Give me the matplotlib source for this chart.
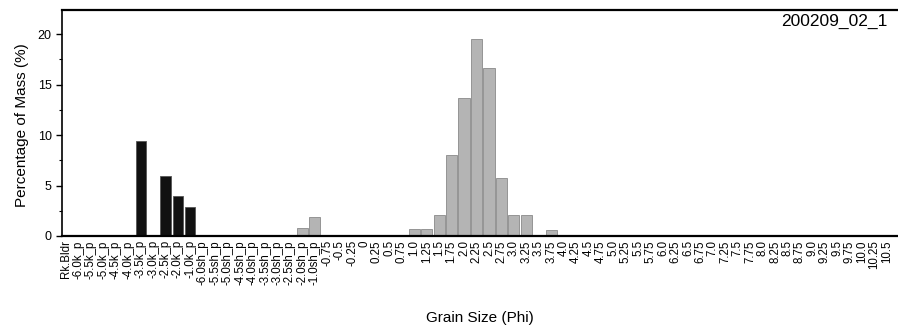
import matplotlib
matplotlib.use("Agg")
import matplotlib.pyplot as plt
import numpy as np

plt.rcParams['font.family'] = ['Liberation Sans', 'DejaVu Sans']

categories = (["Rk.Bldr"]
              + ["-6.0k_p", "-5.5k_p", "-5.0k_p", "-4.5k_p", "-4.0k_p", "-3.5k_p",
                 "-3.0k_p", "-2.5k_p", "-2.0k_p", "-1.0k_p"]
              + ["-6.0sh_p", "-5.5sh_p", "-5.0sh_p", "-4.5sh_p", "-4.0sh_p", "-3.5sh_p",
                 "-3.0sh_p", "-2.5sh_p", "-2.0sh_p", "-1.0sh_p"]
              + ["-0.75", "-0.5", "-0.25", "0", "0.25", "0.5", "0.75", "1.0", "1.25",
                 "1.5", "1.75", "2.0", "2.25", "2.5", "2.75", "3.0", "3.25", "3.5",
                 "3.75", "4.0", "4.25", "4.5", "4.75", "5.0", "5.25", "5.5", "5.75",
                 "6.0", "6.25", "6.5", "6.75", "7.0", "7.25", "7.5", "7.75", "8.0",
                 "8.25", "8.5", "8.75", "9.0", "9.25", "9.5", "9.75", "10.0", "10.25",
                 "10.5"])

# Coarse (k_p) fraction values, %
coarse_values = [0.0,
                 0.0, 0.0, 0.0, 0.0, 0.0, 9.4, 0.0, 5.95, 3.95, 2.85]
# Remaining fractions, %
fine_values = ([0.0, 0.0, 0.0, 0.0, 0.0, 0.0, 0.0, 0.0, 0.75, 1.85]
               + [0.0, 0.0, 0.0, 0.0, 0.0, 0.0, 0.0, 0.65, 0.65,
                  2.1, 8.0, 13.7, 19.5, 16.7, 5.7, 2.1, 2.05, 0.0,
                  0.6] + [0.0] * 27)

title = "200209_02_1"
xlabel = "Grain Size (Phi)"
ylabel = "Percentage of Mass (%)"

fig = plt.figure(figsize=(8.98, 3.34), dpi=100)
ax = fig.add_axes([62 / 898, 98 / 334, 843.7 / 898, 226 / 334])

x = np.arange(len(categories))
n_coarse = len(coarse_values)
ax.bar(x[:n_coarse], coarse_values, width=0.82, color="#111111",
       edgecolor="#555555", linewidth=0.6)
ax.bar(x[n_coarse:], fine_values, width=0.9, color="#b4b4b4",
       edgecolor="#8a8a8a", linewidth=0.6)

ax.set_xlim(-0.32, 67.5)
ax.set_ylim(0, 22.4)
ax.set_xticks(x)
ax.set_xticklabels(categories, rotation=90, ha="center", va="top", fontsize=8.3)
ax.tick_params(axis="x", length=0, pad=3)
ax.set_yticks([0, 5, 10, 15, 20])
ax.set_yticks(np.arange(0, 22.5, 2.5), minor=True)
ax.tick_params(axis="y", which="major", length=4, width=1, labelsize=9)
ax.tick_params(axis="y", which="minor", length=2.5, width=0.8)

for s in ["top", "bottom"]:
    ax.spines[s].set_linewidth(1.6)
ax.spines["left"].set_linewidth(1.2)
ax.spines["right"].set_visible(False)

fig.text(888 / 898, 1 - 21 / 334, title, ha="right", va="center", fontsize=12.5)
fig.text(480 / 898, 1 - 318 / 334, xlabel, ha="center", va="center", fontsize=11)
fig.text(22 / 898, 1 - 125 / 334, ylabel, ha="center", va="center",
         rotation=90, fontsize=11)

fig.savefig("out.png", dpi=100)
